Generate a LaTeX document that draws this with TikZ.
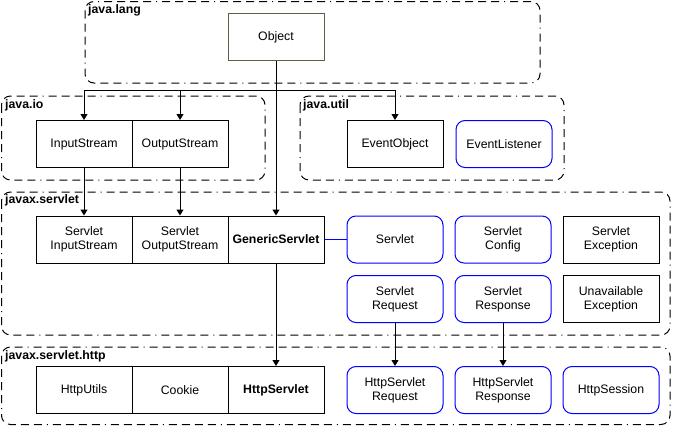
\documentclass[tikz,border=0pt]{standalone}
\usepackage{fontspec}
\setmainfont{Liberation Sans}
\usepackage{tikz}
\usetikzlibrary{positioning,arrows.meta}
\definecolor{objline}{RGB}{96,96,64}
\definecolor{ifblue}{RGB}{0,0,255}

\begin{document}
\begin{tikzpicture}[x=1pt,y=-1pt,
  font=\fontsize{12.3}{13.8}\selectfont,
  cls/.style={draw,line width=1pt,minimum width=96pt,minimum height=47pt,inner sep=0pt,align=center},
  iface/.style={cls,draw=ifblue,rounded corners=9pt},
  pkg/.style={line width=1pt,rounded corners=9pt,dash pattern=on 8pt off 5pt on 8pt off 5pt on 8pt off 5pt on 8pt off 5pt on 1pt off 5pt},
  pkglabel/.style={anchor=north west,inner sep=0pt,font=\fontsize{12.3}{13.8}\selectfont\bfseries},
  inh/.style={line width=1pt,-{Triangle[length=6pt,width=7pt]}}]
\useasboundingbox (0,0) rectangle (673,426);
% packages
\draw[pkg] (85,1.5) rectangle (540,83);
\node[pkglabel] (lang) at (88,4) {java.lang};
\draw[pkg] (1.5,96) rectangle (265,180);
\node[pkglabel] (io) at (5,99) {java.io};
\draw[pkg] (300,96) rectangle (564,180);
\node[pkglabel] (util) at (303,99) {java.util};
\draw[pkg] (1.5,192) rectangle (670,335);
\node[pkglabel] (srv) at (5,194) {javax.servlet};
\draw[pkg] (1.5,347) rectangle (670,424.5);
\node[pkglabel] (http) at (5,350) {javax.servlet.http};
% classes
\node[cls,draw=objline] (obj) at (276,37) {Object};
\node[cls] (istream) at (84,144) {InputStream};
\node[cls] (ostream) at (180,144) {OutputStream};
\node[cls] (evobj) at (395,144) {EventObject};
\node[iface] (evlist) at (504,144) {EventListener};
\node[cls] (sistream) at (84,239.5) {Servlet\\InputStream};
\node[cls] (sostream) at (180,239.5) {Servlet\\OutputStream};
\node[cls,font=\fontsize{12.3}{13.8}\selectfont\bfseries] (gen) at (276,239.5) {GenericServlet};
\node[iface] (servlet) at (395,239.5) {Servlet};
\node[iface] (config) at (503,239.5) {Servlet\\Config};
\node[cls] (sexc) at (611,239.5) {Servlet\\Exception};
\node[iface] (req) at (395,299) {Servlet\\Request};
\node[iface] (resp) at (503,299) {Servlet\\Response};
\node[cls] (unavail) at (611,299) {Unavailable\\Exception};
\node[cls] (utils) at (84,390) {HttpUtils};
\node[cls] (cookie) at (180,390) {Cookie};
\node[cls,font=\fontsize{12.3}{13.8}\selectfont\bfseries] (hsrv) at (276,390) {HttpServlet};
\node[iface] (hreq) at (395,390) {HttpServlet\\Request};
\node[iface] (hresp) at (503,390) {HttpServlet\\Response};
\node[iface] (hsess) at (611,390) {HttpSession};
% connectors
\coordinate (bus) at (276,90);
\draw[inh] (obj.south) -- (gen.north);
\draw[inh] (bus) -| (istream.north);
\draw[inh] (bus) -| (ostream.north);
\draw[inh] (bus) -| (evobj.north);
\draw[inh] (istream) -- (sistream);
\draw[inh] (ostream) -- (sostream);
\draw[inh] (gen) -- (hsrv);
\draw[inh] (req) -- (hreq);
\draw[inh] (resp) -- (hresp);
\draw[line width=1pt,ifblue] (gen) -- (servlet);
\end{tikzpicture}
\end{document}
